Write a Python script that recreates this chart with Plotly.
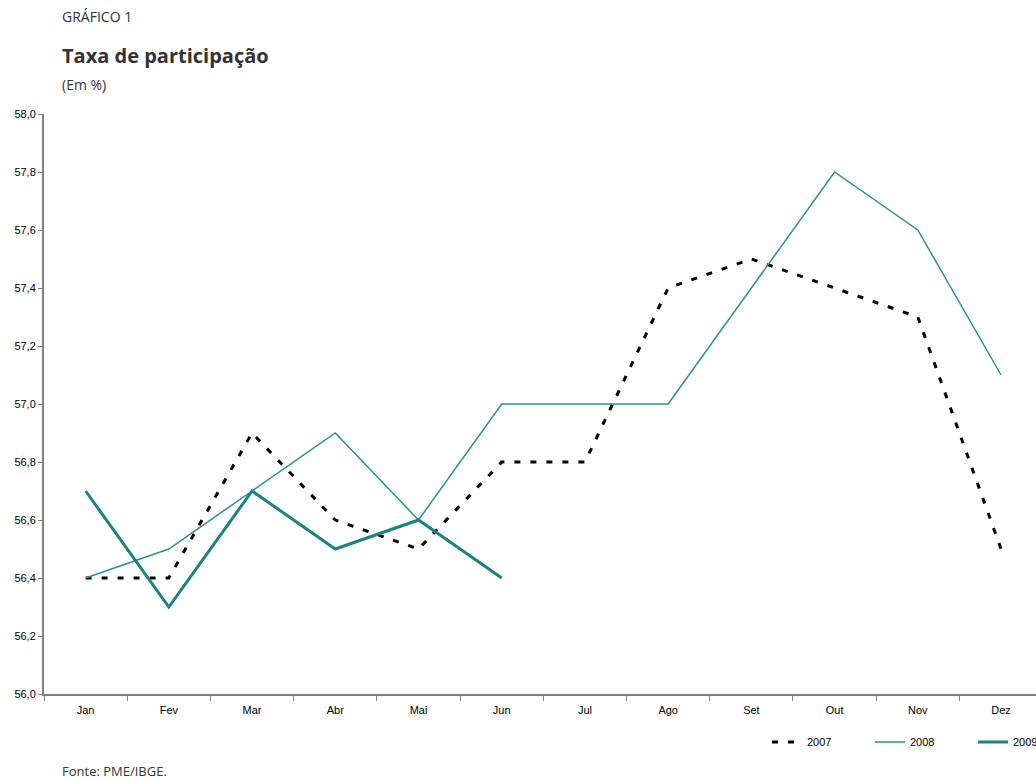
import plotly.graph_objects as go

meses = ["Jan", "Fev", "Mar", "Abr", "Mai", "Jun", "Jul", "Ago", "Set", "Out", "Nov", "Dez"]
s2007 = [56.4, 56.4, 56.9, 56.6, 56.5, 56.8, 56.8, 57.4, 57.5, 57.4, 57.3, 56.5]
s2008 = [56.4, 56.5, 56.7, 56.9, 56.6, 57.0, 57.0, 57.0, 57.4, 57.8, 57.6, 57.1]
s2009 = [56.7, 56.3, 56.7, 56.5, 56.6, 56.4]
yticks = [56.0, 56.2, 56.4, 56.6, 56.8, 57.0, 57.2, 57.4, 57.6, 57.8, 58.0]

W, H = 1036, 780
L, T, B = 44, 114, 86
PW, PH = W - L, H - T - B

def px(x):
    return (x - L) / PW

def py(y):
    return (H - B - y) / PH

fig = go.Figure()
fig.add_trace(go.Scatter(x=meses, y=s2007, name="2007", mode="lines",
                         line=dict(color="black", width=3, dash="6px,10px")))
fig.add_trace(go.Scatter(x=meses, y=s2008, name="2008", mode="lines",
                         line=dict(color="#2a9090", width=1.5)))
fig.add_trace(go.Scatter(x=meses[:len(s2009)], y=s2009, name="2009", mode="lines",
                         line=dict(color="#1a8282", width=3)))

tfont = "Open Sans"
ann = [
    dict(text="GRÁFICO 1", x=px(60), y=py(17), size=14),
    dict(text="<b>Taxa de participação</b>", x=px(60), y=py(56), size=20),
    dict(text="(Em %)", x=px(60), y=py(84), size=14),
    dict(text="Fonte: PME/IBGE.", x=px(60), y=py(771), size=13),
]
annotations = []
for a in ann:
    annotations.append(dict(text=a["text"], x=a["x"], y=a["y"], xref="paper", yref="paper",
                            xanchor="left", yanchor="middle", showarrow=False,
                            font=dict(family=tfont, size=a["size"], color="#333333")))

fig.update_layout(
    width=W, height=H,
    margin=dict(l=L, r=0, t=T, b=B, autoexpand=False),
    paper_bgcolor="white", plot_bgcolor="white",
    separators=",.",
    font=dict(family="Liberation Sans, Arial", size=11, color="black"),
    xaxis=dict(type="category", range=[-0.5, 11.42], showgrid=False, zeroline=False,
               showline=True, linecolor="#808080", linewidth=2,
               ticks="outside", tickson="boundaries", ticklen=5, tickcolor="#808080",
               tickwidth=1, tickfont=dict(size=11), ticklabelstandoff=5),
    yaxis=dict(range=[56.0, 58.0], tickvals=yticks, tickformat=".1f", showgrid=False,
               zeroline=False, showline=True, linecolor="#808080", linewidth=2,
               ticks="outside", ticklen=4, tickcolor="#808080", tickwidth=1,
               tickfont=dict(size=11)),
    showlegend=True,
    legend=dict(orientation="h", xref="container", yref="container",
                x=767 / W, y=1 - 742 / H, xanchor="left", yanchor="middle",
                entrywidth=58, entrywidthmode="pixels",
                font=dict(size=11), bgcolor="rgba(0,0,0,0)", traceorder="normal"),
    annotations=annotations,
)

fig.write_html("out.html")
